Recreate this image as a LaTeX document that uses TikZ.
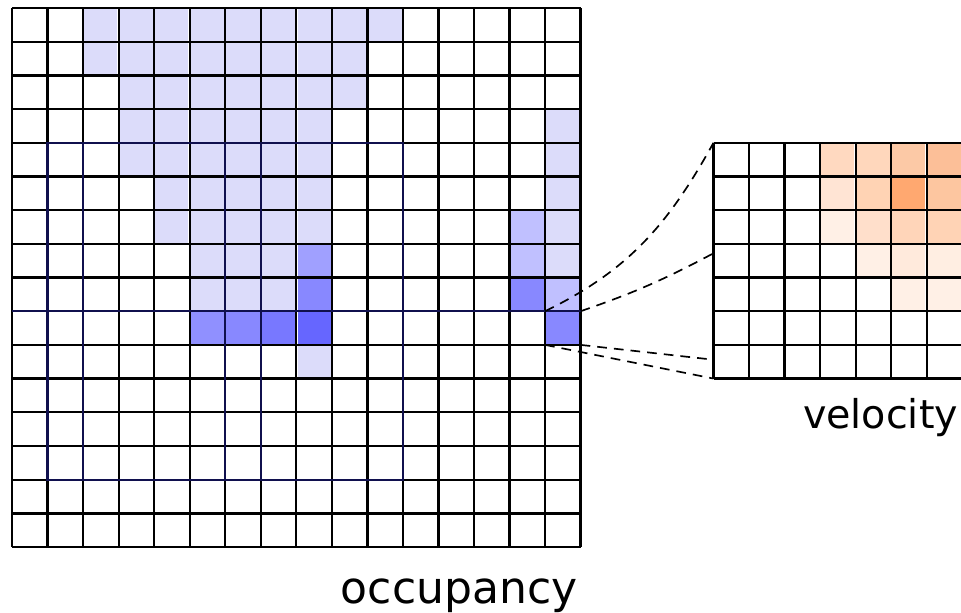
\documentclass[tikz,border=0pt]{standalone}
\usepackage{xcolor}
\usepackage{fontspec}
\setmainfont{DejaVu Sans}
\usepackage{tikz}
\usetikzlibrary{positioning, calc}

\definecolor{occlight}{HTML}{DCDCFA}
\definecolor{occmid}{HTML}{C0C0FF}
\definecolor{occmed}{HTML}{A0A0FF}
\definecolor{occstrong}{HTML}{8888FF}
\definecolor{occrowa}{HTML}{9090FF}
\definecolor{occrowc}{HTML}{7878FF}
\definecolor{occdeep}{HTML}{6666FF}
\definecolor{navyline}{HTML}{10104E}

\tikzstyle{gridline}  = [black, line width=1.3pt]
\tikzstyle{coarseline}= [navyline, line width=1.3pt]
\tikzstyle{zoomline}  = [black, line width=0.95pt, dash pattern=on 5.5pt off 4pt]
\tikzstyle{focusbox}  = [rectangle, draw=none, inner sep=0pt, outer sep=0pt,
                         minimum width=0.7088cm, minimum height=0.672cm]
\tikzstyle{caption}   = [anchor=base, inner sep=0pt]

\begin{document}
\begin{tikzpicture}[x=0.7088cm, y=0.672cm]
  \useasboundingbox (-0.339,-1.946) rectangle (26.705,16.238);

  % occupancy cells (row counted from the top)
  \foreach \r/\a/\b in {0/2/10, 1/2/9, 2/3/9, 3/3/8, 4/3/8, 5/4/8, 6/4/8, 7/5/7, 8/5/7, 10/8/8}
    \foreach \c in {\a,...,\b}
      \fill[occlight] ({\c+0.035},{15-\r+0.035}) rectangle ({\c+0.965},{16-\r-0.035});
  \foreach \c/\r/\col in {15/3/occlight, 15/4/occlight, 15/5/occlight, 15/6/occlight,
                          15/7/occlight, 14/6/occmid, 14/7/occmid, 8/7/occmed,
                          8/8/occstrong, 14/8/occstrong, 15/8/occmid,
                          5/9/occrowa, 6/9/occstrong, 7/9/occrowc, 8/9/occdeep,
                          15/9/occstrong}
    \fill[\col] ({\c+0.035},{15-\r+0.035}) rectangle ({\c+0.965},{16-\r-0.035});

  \foreach \i in {0,...,16} {
    \draw[gridline] (\i,0) -- (\i,16);
    \draw[gridline] (0,\i) -- (16,\i);
  }

  % coarse frame
  \draw[coarseline] (1,12) rectangle (11,2);
  \draw[coarseline] (2,12) -- (2,2);
  \draw[coarseline] (6,12) -- (6,2);
  \draw[coarseline] (7,12) -- (7,2);
  \draw[coarseline] (0,7) -- (16,7);

  \node[caption] (occlabel) at (12.58,-1.68) {\fontsize{25}{30}\selectfont occupancy};

  % zoomed cell
  \node[focusbox] (focus) at (15.5,6.5) {};
  \coordinate (zoomnw) at (19.74,12);
  \coordinate (zoomsw) at (19.74,5);
  \coordinate (zoomup) at (19.74,8.72);
  \coordinate (zoomlow) at (19.74,5.56);

  \draw[zoomline] (focus.north west) to[out=26, in=241] (zoomnw);
  \draw[zoomline] (focus.north east) to[out=19, in=208] (zoomup);
  \draw[zoomline] (focus.south west) -- (zoomsw);
  \draw[zoomline] (focus.south east) -- (zoomlow);

  % velocity grid
  \begin{scope}[shift={(19.74,0)}]
    \fill[white] (0,5) rectangle (7,12);
    \foreach \c/\r/\hex in {3/0/FFD9C0, 4/0/FFD7BC, 5/0/FCC9A6, 6/0/FCBF98,
                            3/1/FFE4D4, 4/1/FFD3B4, 5/1/FFA870, 6/1/FDC6A0,
                            3/2/FFF0E6, 4/2/FFDFCB, 5/2/FFD5B9, 6/2/FFD3B5,
                            4/3/FFF0E6, 5/3/FFEADC, 6/3/FFEEE2,
                            5/4/FFF0E6, 6/4/FFF0E6} {
      \definecolor{velcell}{HTML}{\hex}
      \fill[velcell] ({\c+0.035},{11-\r+0.035}) rectangle ({\c+0.965},{12-\r-0.035});
    }
    \foreach \i in {0,...,7} {
      \draw[gridline] (\i,5) -- (\i,12);
      \draw[gridline] (0,{5+\i}) -- (7,{5+\i});
    }
  \end{scope}

  \node[caption] (vellabel) at (24.44,3.53) {\fontsize{22.5}{27}\selectfont velocity};
\end{tikzpicture}
\end{document}
